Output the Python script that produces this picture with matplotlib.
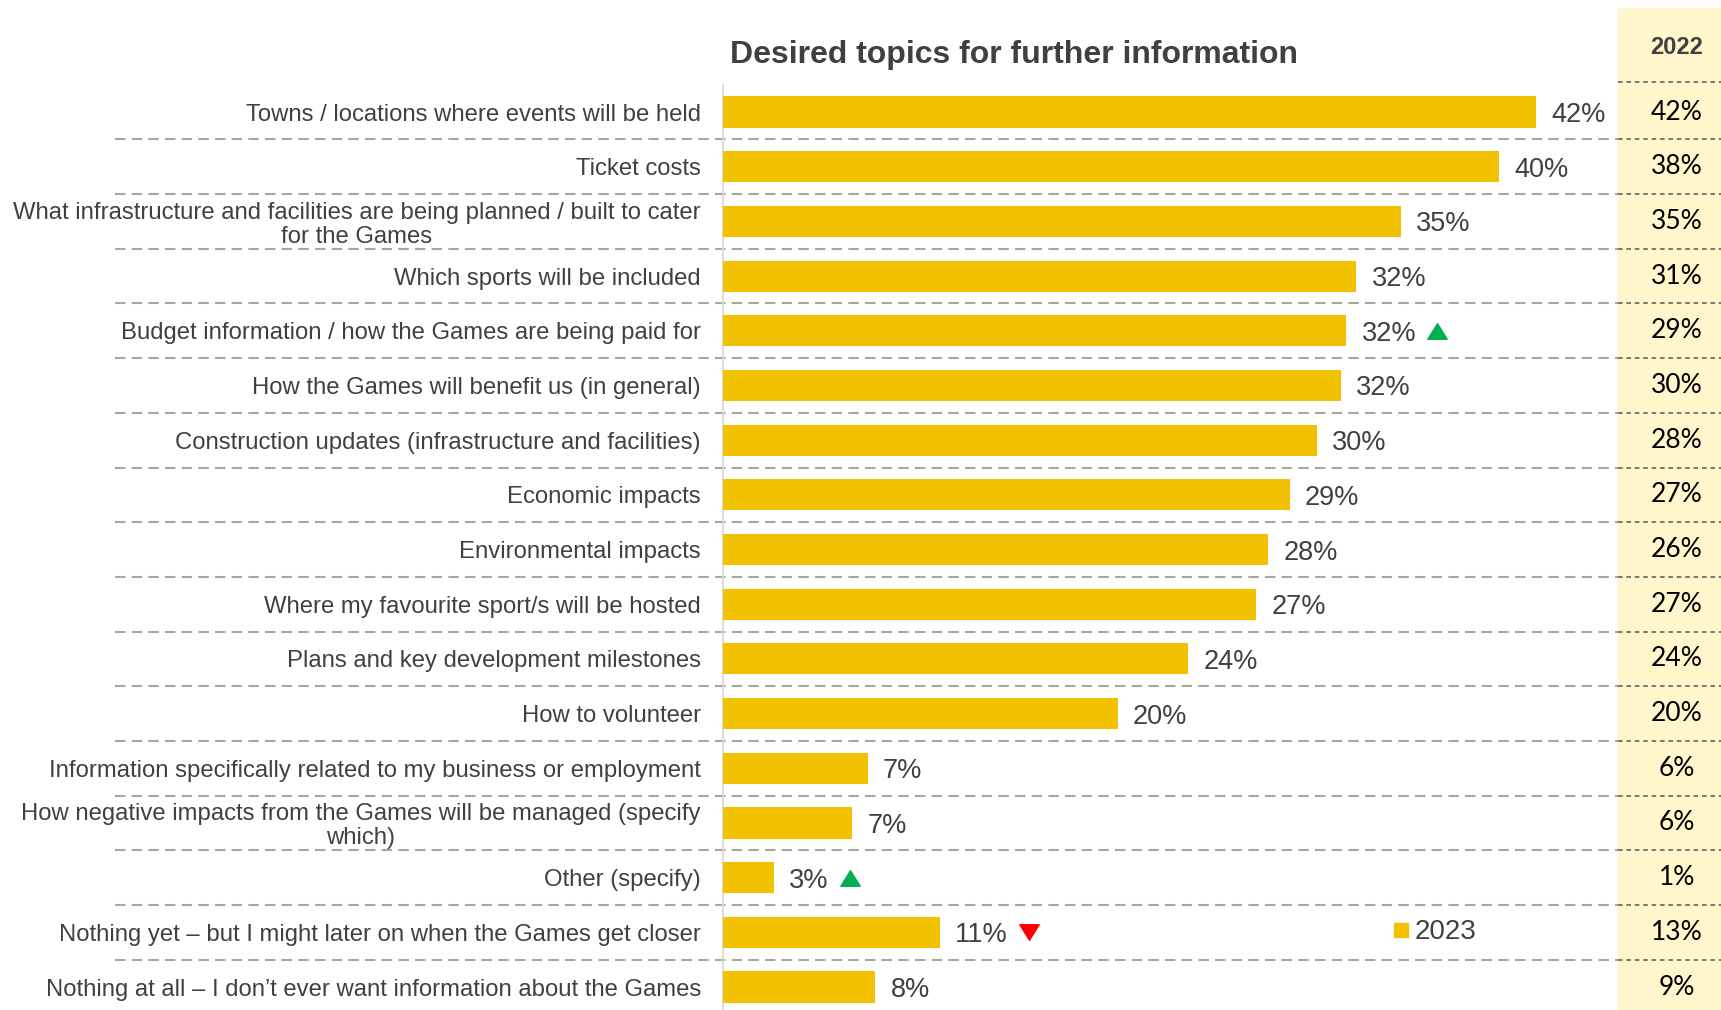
import matplotlib.pyplot as plt
import matplotlib.transforms as mtransforms
from matplotlib.lines import Line2D
from matplotlib.path import Path

plt.rcParams["font.family"] = ["Liberation Sans", "DejaVu Sans"]

topics = [
    "Towns / locations where events will be held",
    "Ticket costs",
    "What infrastructure and facilities are being planned / built to cater\nfor the Games",
    "Which sports will be included",
    "Budget information / how the Games are being paid for",
    "How the Games will benefit us (in general)",
    "Construction updates (infrastructure and facilities)",
    "Economic impacts",
    "Environmental impacts",
    "Where my favourite sport/s will be hosted",
    "Plans and key development milestones",
    "How to volunteer",
    "Information specifically related to my business or employment",
    "How negative impacts from the Games will be managed (specify\nwhich)",
    "Other (specify)",
    "Nothing yet \u2013 but I might later on when the Games get closer",
    "Nothing at all \u2013 I don\u2019t ever want information about the Games",
]
values_2023 = [41.6, 39.7, 34.7, 32.4, 31.9, 31.6, 30.4, 29.0, 27.9, 27.3,
               23.8, 20.2, 7.4, 6.6, 2.6, 11.1, 7.8]
values_2022 = [42, 38, 35, 31, 29, 30, 28, 27, 26, 27, 24, 20, 6, 6, 1, 13, 9]
changes = ["", "", "", "", "up", "", "", "", "", "", "", "", "", "", "up", "down", ""]

BAR = "#F2C200"
TEXT = "#404040"
W, H = 1721, 1010

fig = plt.figure(figsize=(W / 100, H / 100), dpi=100)

# right column background (2022 values)
col_x0 = 1618 / W
fig.patches.append(plt.Rectangle((col_x0, 0), 1 - col_x0, 1 - 8 / H,
                                 transform=fig.transFigure, color="#FFF6CC", zorder=-1))

ax = fig.add_axes([723 / W, 0, col_x0 - 723 / W, (H - 84.7) / H])
ax.patch.set_alpha(0)
n = len(topics)
ypos = list(range(n))
ax.barh(ypos, values_2023, height=0.57, color=BAR, zorder=3)
ax.set_xlim(0, 45.8)
ax.set_ylim(n - 1 + 0.42, -0.5)
for s in ax.spines.values():
    s.set_visible(False)
ax.spines["left"].set_visible(True)
ax.spines["left"].set_color("#D9D9D9")
ax.spines["left"].set_linewidth(1.3)
ax.set_xticks([])
ax.set_yticks(ypos)
ax.set_yticklabels(topics, fontsize=17.2, color=TEXT)
for lab in ax.get_yticklabels():
    lab.set_multialignment("center")
    lab.set_linespacing(1.1)
ax.tick_params(axis="y", length=0, pad=16)

# value labels
texts = []
for i, v in enumerate(values_2023):
    t = ax.annotate(f"{round(v)}%", (v, i), xytext=(11, 0), textcoords="offset points",
                    ha="left", va="center_baseline", fontsize=19.5, color=TEXT, zorder=4)
    texts.append(t)

# separators
blend = mtransforms.blended_transform_factory(fig.transFigure, ax.transData)
for i in range(n - 1):
    yy = i + 0.5
    ax.plot([115 / W, col_x0], [yy, yy], color="#A8A899", lw=1.5, ls=(0, (5, 3)),
            transform=blend, clip_on=False, zorder=1)
    ax.plot([col_x0, 1], [yy, yy], color="#595959", lw=1.1, ls=(0, (3, 2.5)),
            transform=blend, clip_on=False, zorder=1)
ax.plot([col_x0, 1], [-0.55, -0.55], color="#595959", lw=1.1, ls=(0, (3, 2.5)),
        transform=blend, clip_on=False, zorder=1)

# 2022 column
fig.text(1677 / W, 1 - 47 / H, "2022", ha="center", va="center", fontsize=17,
         fontweight="bold", color=TEXT)
for i, v in enumerate(values_2022):
    ax.text(1677 / W, i, f"{v}%", transform=blend, ha="center", va="center",
            fontsize=19, color="black", family=["Lato", "DejaVu Sans"])

# change markers
up_tri = Path([(0, 0.8), (-1, -0.8), (1, -0.8), (0, 0.8)],
              [Path.MOVETO, Path.LINETO, Path.LINETO, Path.CLOSEPOLY])
down_tri = Path([(0, -0.8), (-1, 0.8), (1, 0.8), (0, -0.8)],
                [Path.MOVETO, Path.LINETO, Path.LINETO, Path.CLOSEPOLY])
fig.canvas.draw()
renderer = fig.canvas.get_renderer()
inv = ax.transData.inverted()
for i, c in enumerate(changes):
    if not c:
        continue
    bb = texts[i].get_window_extent(renderer)
    xd = inv.transform((bb.x1 + 21, 0))[0]
    if c == "up":
        ax.plot(xd, i, marker=up_tri, ms=14, color="#00B050", ls="none", clip_on=False, zorder=5)
    else:
        ax.plot(xd, i, marker=down_tri, ms=14, color="#FF0000", ls="none", clip_on=False, zorder=5)

# legend
handle = Line2D([], [], marker="s", color=BAR, ls="none", ms=10)
ax.legend(handles=[handle], labels=["2023"], loc="center left",
          bbox_to_anchor=((1376 - 723) / (1618 - 723), 15),
          bbox_transform=mtransforms.blended_transform_factory(ax.transAxes, ax.transData),
          frameon=False, fontsize=20, handletextpad=0.1, borderpad=0, handlelength=0.8,
          labelcolor=TEXT)

fig.text(1014 / W, 1 - 55 / H, "Desired topics for further information", ha="center",
         va="center", fontsize=23, fontweight="bold", color=TEXT)

fig.savefig("out.png", dpi=100)
